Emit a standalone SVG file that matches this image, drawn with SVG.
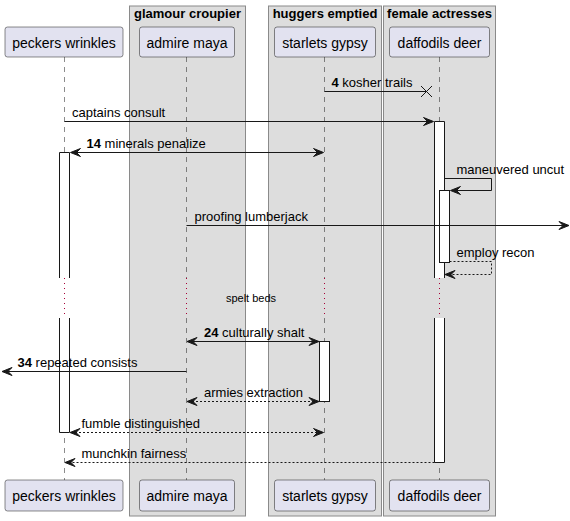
<svg xmlns="http://www.w3.org/2000/svg" width="570" height="521" viewBox="0 0 570 521">
<defs>
<style>
text{font-family:"Liberation Sans",Arial,sans-serif;fill:#000}
.grp{fill:#DDDDDD;stroke:#8A8A8A;stroke-width:1}
.gt{font-size:13px;font-weight:bold;text-anchor:middle}
.part{fill:#E2E2F0;stroke:#181818;stroke-width:0.5}
.pt{font-size:14px;text-anchor:middle}
.life{stroke:#181818;stroke-width:0.5;stroke-dasharray:5,5;fill:none}
.div{stroke:#A80036;stroke-width:1;stroke-dasharray:1,4;fill:none}
.act{fill:#FFFFFF;stroke:#181818;stroke-width:1}
.msg{stroke:#181818;stroke-width:1;fill:none}
.dash{stroke:#181818;stroke-width:1;fill:none;stroke-dasharray:2,2}
.lbl{font-size:13px}
.head{fill:#181818;stroke:#181818;stroke-width:1}
</style>
</defs>
<rect width="570" height="521" fill="#FFFFFF"/>
<g id="box-glamour-croupier"><rect class="grp" x="129.5" y="6" width="116" height="510"/><text class="gt" x="187.5" y="18">glamour croupier</text></g>
<g id="box-huggers-emptied"><rect class="grp" x="268.5" y="6" width="113" height="510"/><text class="gt" x="325" y="18">huggers emptied</text></g>
<g id="box-female-actresses"><rect class="grp" x="383.5" y="6" width="112" height="510"/><text class="gt" x="439.5" y="18">female actresses</text></g>

<g id="lifelines">
<path class="life" d="M64.5,57V278M64.5,318V480"/>
<path class="life" d="M186.5,57V278M186.5,318V480"/>
<path class="life" d="M324.5,57V278M324.5,318V480"/>
<path class="life" d="M439.5,57V278M439.5,318V480"/>
<path class="div" d="M64.5,278V318M186.5,278V318M324.5,278V318M439.5,278V318"/>
</g>

<g id="peckers-wrinkles">
<rect class="part" x="5" y="27" width="118" height="30" rx="2.5"/><text class="pt" x="64" y="48">peckers wrinkles</text>
<rect class="part" x="5" y="480" width="118" height="31" rx="2.5"/><text class="pt" x="64" y="501">peckers wrinkles</text>
</g>
<g id="admire-maya">
<rect class="part" x="139.5" y="27" width="95" height="30" rx="2.5"/><text class="pt" x="187" y="48">admire maya</text>
<rect class="part" x="139.5" y="480" width="95" height="31" rx="2.5"/><text class="pt" x="187" y="501">admire maya</text>
</g>
<g id="starlets-gypsy">
<rect class="part" x="274.5" y="27" width="101" height="30" rx="2.5"/><text class="pt" x="325" y="48">starlets gypsy</text>
<rect class="part" x="274.5" y="480" width="101" height="31" rx="2.5"/><text class="pt" x="325" y="501">starlets gypsy</text>
</g>
<g id="daffodils-deer">
<rect class="part" x="389.5" y="27" width="100" height="30" rx="2.5"/><text class="pt" x="439.5" y="48">daffodils deer</text>
<rect class="part" x="389.5" y="480" width="100" height="31" rx="2.5"/><text class="pt" x="439.5" y="501">daffodils deer</text>
</g>

<g id="activations">
<path class="act" d="M59.5,278V152.5H69.5V278"/>
<path class="act" d="M59.5,318V432.5H69.5V318"/>
<path class="act" d="M434.5,278V121.5H444.5V278"/>
<path class="act" d="M434.5,318V462.5H444.5V318"/>
<rect class="act" x="439.5" y="190.5" width="10" height="72"/>
<rect class="act" x="319.5" y="341.5" width="10" height="60"/>
</g>

<g id="connectors">
<!-- 4 kosher trails -->
<path class="msg" d="M324.5,91.5H426.5"/>
<path class="msg" d="M421,86L432,97M421,97L432,86" stroke-width="2"/>
<text class="lbl" x="331.5" y="86.5"><tspan font-weight="bold">4</tspan> kosher trails</text>
<!-- captains consult -->
<path class="msg" d="M64.5,121.5H432"/>
<polygon class="head" points="433.5,121.5 423.5,117.5 427.5,121.5 423.5,125.5"/>
<text class="lbl" x="72" y="117">captains consult</text>
<!-- 14 minerals penalize -->
<path class="msg" d="M71,152.5H322"/>
<polygon class="head" points="70.5,152.5 80.5,148.5 76.5,152.5 80.5,156.5"/>
<polygon class="head" points="323.5,152.5 313.5,148.5 317.5,152.5 313.5,156.5"/>
<text class="lbl" x="86.5" y="147.5"><tspan font-weight="bold">14</tspan> minerals penalize</text>
<!-- maneuvered uncut -->
<path class="msg" d="M444.5,178.5H491.5V190.5H452"/>
<polygon class="head" points="450.5,190.5 460.5,186.5 456.5,190.5 460.5,194.5"/>
<text class="lbl" x="456.5" y="173.5">maneuvered uncut</text>
<!-- proofing lumberjack -->
<path class="msg" d="M186.5,225.5H567"/>
<polygon class="head" points="569,225.5 559,221.5 563,225.5 559,229.5"/>
<text class="lbl" x="194.5" y="220.5">proofing lumberjack</text>
<!-- employ recon -->
<path class="dash" d="M449.5,261.5H491.5V274.5H446"/>
<polygon class="head" points="445,274.5 455,270.5 451,274.5 455,278.5"/>
<text class="lbl" x="456.5" y="256.5">employ recon</text>
<!-- spelt beds -->
<text x="251" y="301.5" font-size="11" text-anchor="middle">spelt beds</text>
<!-- 24 culturally shalt -->
<path class="msg" d="M188,341.5H318"/>
<polygon class="head" points="187,341.5 197,337.5 193,341.5 197,345.5"/>
<polygon class="head" points="319,341.5 309,337.5 313,341.5 309,345.5"/>
<text class="lbl" x="204" y="336.5"><tspan font-weight="bold">24</tspan> culturally shalt</text>
<!-- 34 repeated consists -->
<path class="msg" d="M186.5,371.5H3"/>
<polygon class="head" points="2,371.5 12,367.5 8,371.5 12,375.5"/>
<text class="lbl" x="17.5" y="366.5"><tspan font-weight="bold">34</tspan> repeated consists</text>
<!-- armies extraction -->
<path class="dash" d="M188,401.5H318"/>
<polygon class="head" points="187,401.5 197,397.5 193,401.5 197,405.5"/>
<polygon class="head" points="319,401.5 309,397.5 313,401.5 309,405.5"/>
<text class="lbl" x="204" y="396.5">armies extraction</text>
<!-- fumble distinguished -->
<path class="dash" d="M71,432.5H322"/>
<polygon class="head" points="70,432.5 80,428.5 76,432.5 80,436.5"/>
<polygon class="head" points="323.5,432.5 313.5,428.5 317.5,432.5 313.5,436.5"/>
<text class="lbl" x="81.5" y="427.5">fumble distinguished</text>
<!-- munchkin fairness -->
<path class="dash" d="M434.5,462.5H66"/>
<polygon class="head" points="65,462.5 75,458.5 71,462.5 75,466.5"/>
<text class="lbl" x="81.5" y="457.5">munchkin fairness</text>
</g>
</svg>
